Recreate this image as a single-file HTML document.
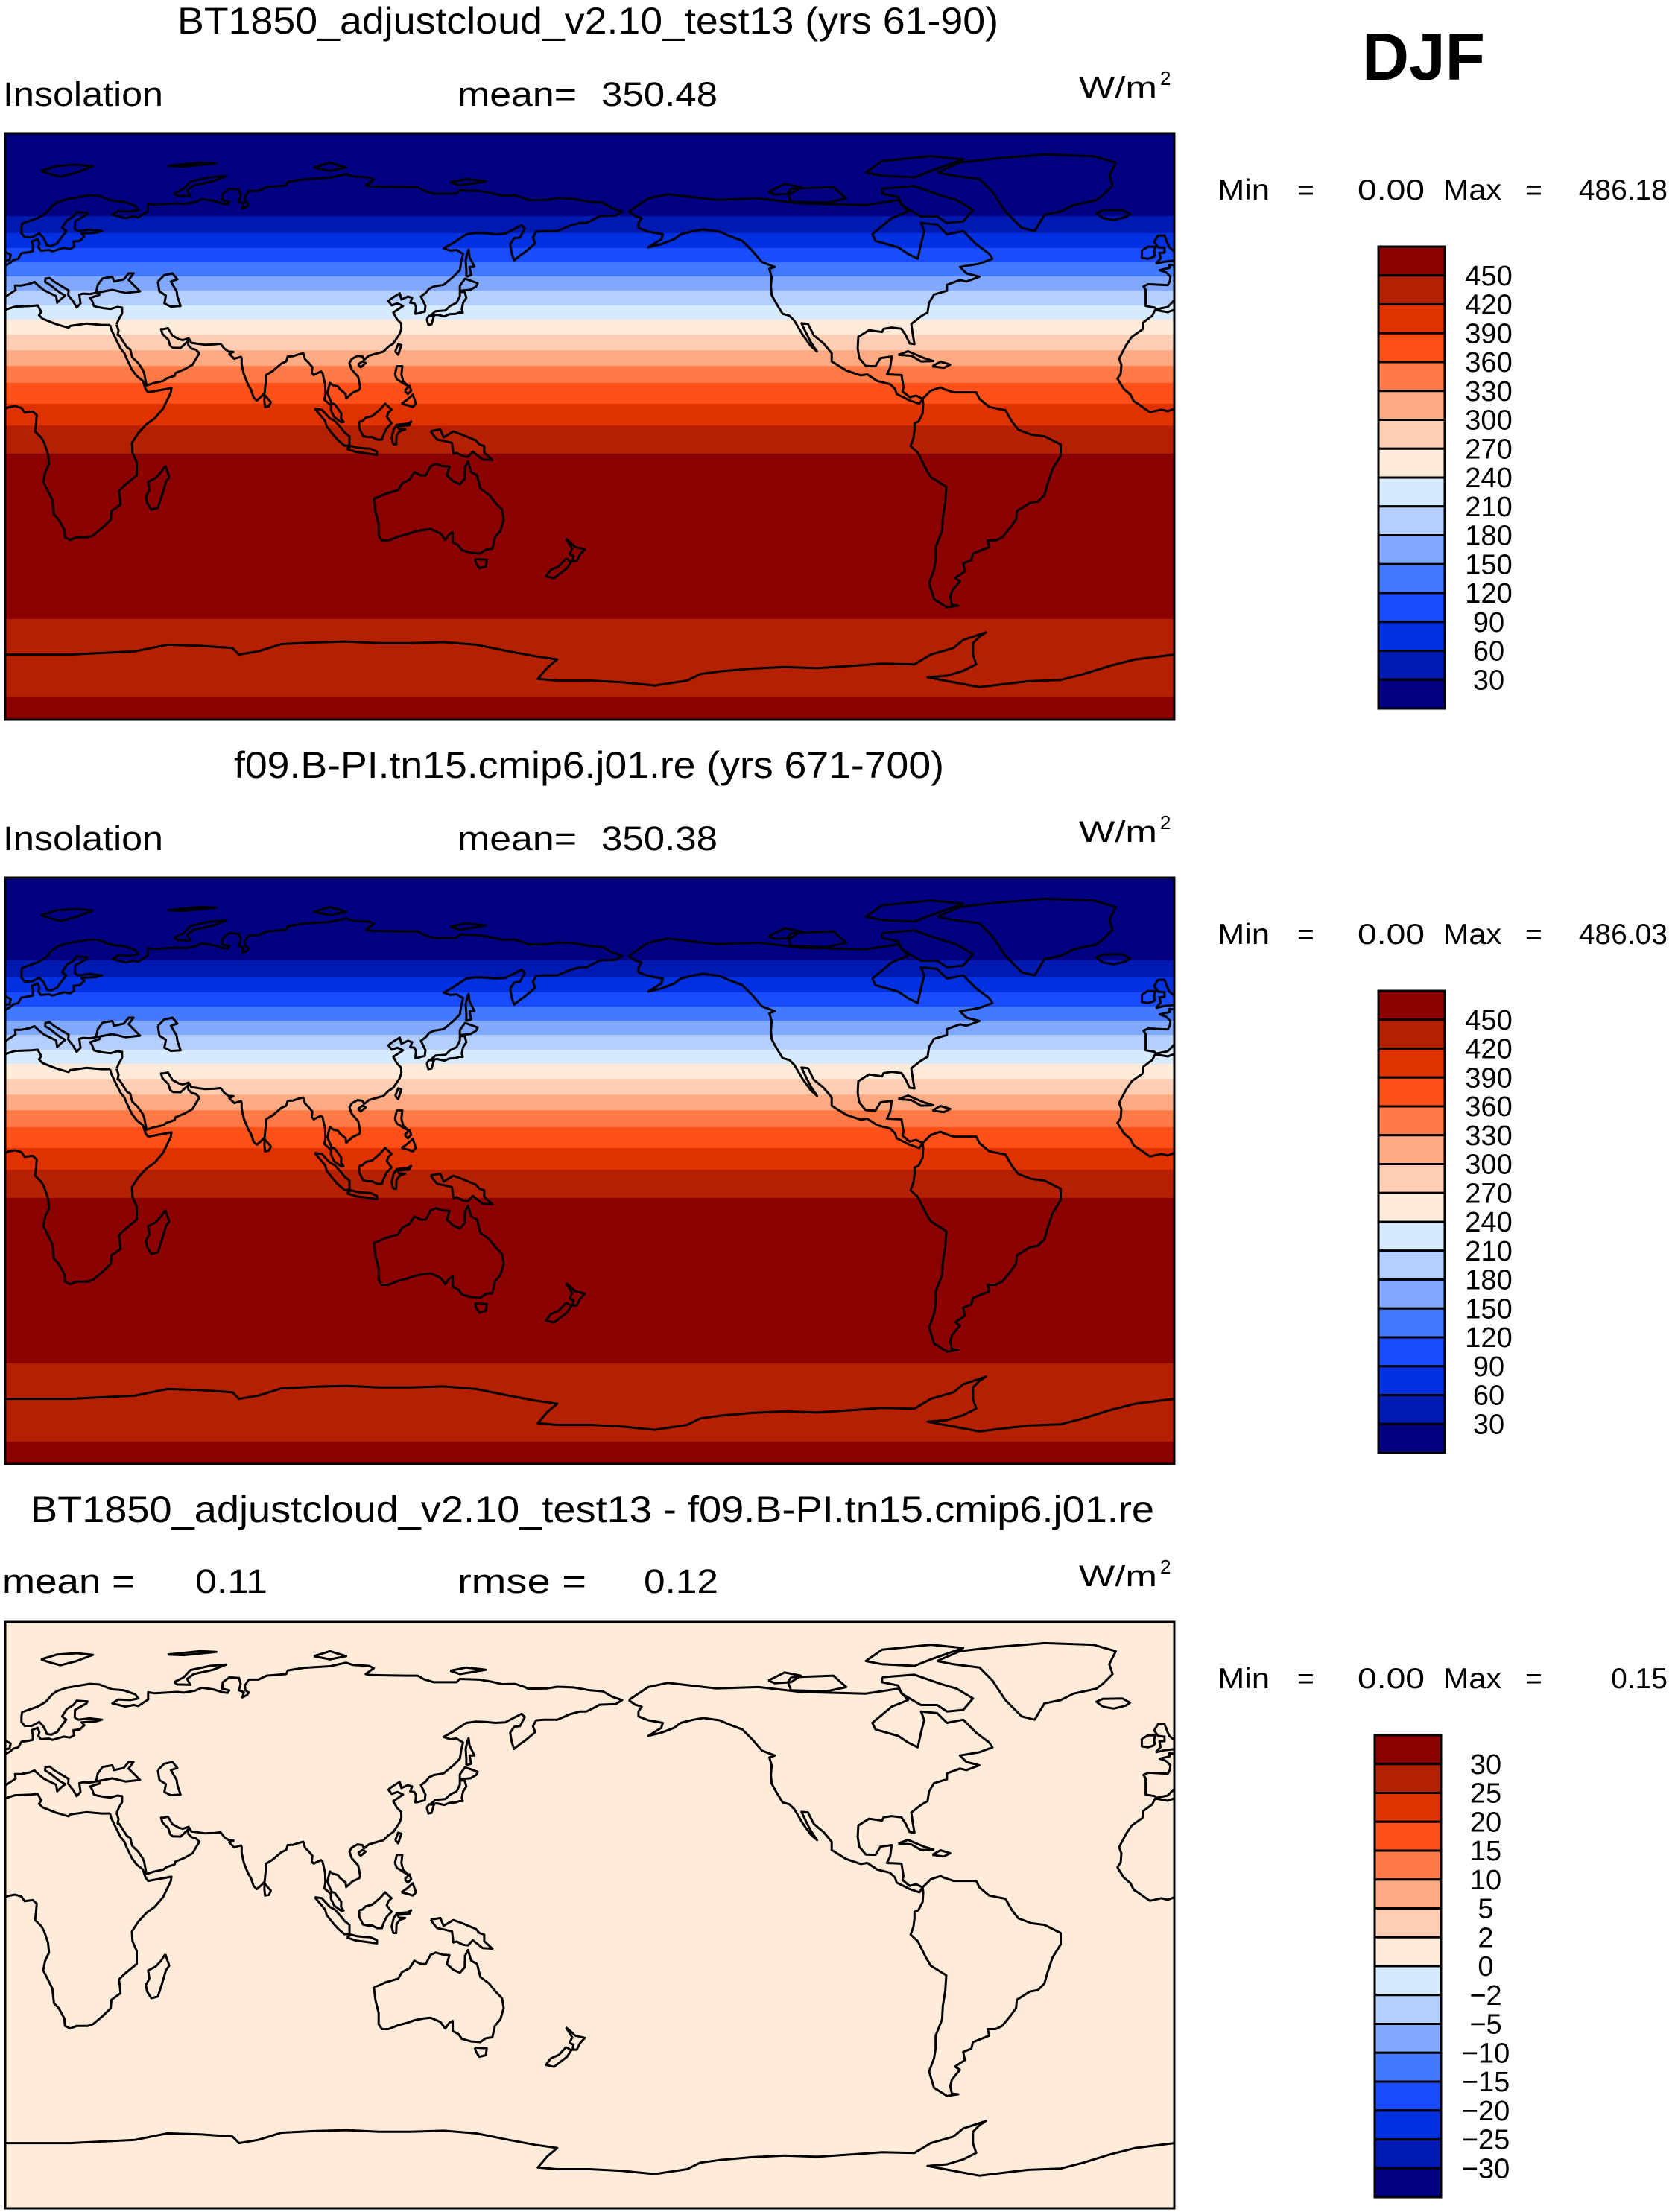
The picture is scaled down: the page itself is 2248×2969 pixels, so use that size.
<!DOCTYPE html>
<html><head><meta charset="utf-8"><style>
html,body{margin:0;padding:0;background:#fff;}
svg{display:block;font-family:"Liberation Sans",sans-serif;}
</style></head><body>
<svg id="fig" xmlns="http://www.w3.org/2000/svg" width="2248" height="2969" viewBox="0 0 2248 2969">
<rect width="2248" height="2969" fill="#fff"/>
<text x="1828" y="107" font-size="90" font-weight="bold" textLength="165" lengthAdjust="spacingAndGlyphs">DJF</text>
</svg>
<script>
// ---------- data ----------
const insolLevels = [30,60,90,120,150,180,210,240,270,300,330,360,390,420,450];
const insolTickLabels = ["450","420","390","360","330","300","270","240","210","180","150","120","90","60","30"];
const diffLevels = [-30,-25,-20,-15,-10,-5,-2,0,2,5,10,15,20,25,30];
const diffTickLabels = ["30","25","20","15","10","5","2","0","\u22122","\u22125","\u221210","\u221215","\u221220","\u221225","\u221230"];
// zonal bands: latitude edges (north->south) and insolation value in each band
const bandEdgesLat1 = [90,64.6,59.4,54.8,50.4,46.1,41.7,37.2,32.8,28.2,23.4,18.6,13.4,7.0,0.3,-8.3,-59.1,-83.1,-90];
const bandValues1 = [10,45,75,105,135,165,195,225,255,285,315,345,375,405,435,470,440,475];
const bandEdgesLat2 = [90,64.6,59.4,54.8,50.4,46.1,41.7,37.2,32.8,28.2,23.4,18.6,13.4,7.0,0.3,-8.3,-59.1,-83.1,-90];
const bandValues2 = [10,45,75,105,135,165,195,225,255,285,315,345,375,405,435,470,440,475];
const bandEdgesLat3 = [90,-90];
const bandValues3 = [0.11];
const panelStats = [
  {title:"BT1850_adjustcloud_v2.10_test13 (yrs 61-90)", tx:238, tw:1102, min:"0.00", max:"486.18"},
  {title:"f09.B-PI.tn15.cmip6.j01.re (yrs 671-700)", tx:314, tw:953, min:"0.00", max:"486.03"},
  {title:"BT1850_adjustcloud_v2.10_test13 - f09.B-PI.tn15.cmip6.j01.re", tx:41, tw:1508, min:"0.00", max:"0.15"}
];
const means = ["350.48","350.38"];
const diffMean = "0.11", diffRmse = "0.12";

const palette = ["#000080","#0019b0","#0030e0","#1a4cff","#4478ff","#80a8ff","#b4ceff","#d6eaff","#ffebda","#ffcdb4","#ffaa82","#ff7a46","#ff501a","#e03200","#b52000","#8b0000"];

const coasts = [
 [[-168,66],[-162,70],[-156,71.3],[-141,69.6],[-128,70],[-115,68.5],[-95,68],[-85,69.5],[-82,66],[-87,64],[-93,59],[-92,57],[-85,55],[-82,53],[-79,51.5],[-78,56],[-77,60],[-78,62.5],[-73,62],[-70,59],[-65,60],[-61,56],[-57,53],[-56,51.5],[-60,50],[-66,49],[-64,47],[-60,46],[-64,44.5],[-66,45],[-70,43.5],[-70,41.7],[-74,40.5],[-75.5,38],[-76,35],[-78,33.8],[-81,31.5],[-80.5,28],[-80,25.3],[-81.5,25.5],[-82.7,28],[-84,30],[-87,30.4],[-89.5,30],[-90,29],[-94,29.6],[-97.3,27.5],[-97.5,24],[-97,21],[-95,18.6],[-92,18.5],[-90.5,21],[-87,21.5],[-87.5,18],[-88.5,16],[-84,15.8],[-83.4,12],[-83.7,10.8],[-81.5,9],[-79.5,9.5],[-77.5,8.5],[-78.5,7],[-80,7.5],[-81.5,8],[-85.5,10],[-86,11.5],[-87.5,13],[-91.5,14],[-94.5,16],[-96.5,15.7],[-101,17.2],[-105.5,20],[-105.5,22.5],[-108,25.5],[-111,28],[-112.8,31.5],[-114.8,31.7],[-113.5,29],[-112,26],[-110,23],[-112,24.8],[-114.3,28],[-117,32.5],[-118.5,34],[-120.6,34.6],[-122.5,37.7],[-124,40.4],[-124.2,43],[-124,46],[-124.7,48.4],[-123,49],[-127,50.5],[-130,54],[-133,57],[-137,58.5],[-140,59.8],[-145,60.5],[-148,60],[-152,59],[-154,57.5],[-158,56],[-162,55],[-158,57.5],[-157.5,59],[-162,59.8],[-165,61],[-165,62.5],[-164,64],[-166,64.6],[-168,66]],
 [[-73,78],[-66,81],[-55,82.3],[-40,83.5],[-25,83],[-18,81],[-20,77],[-19,74],[-22,71],[-24,69.5],[-31,68],[-35,66],[-40,65],[-43,60],[-47,61],[-50,64],[-52,66],[-54,69],[-56,72],[-60,76],[-68,77],[-73,78]],
 [[-90,73],[-80,73.8],[-72,71],[-67,69.5],[-62,66.5],[-65,63],[-70,62.5],[-73,64.5],[-78,64.5],[-84,68],[-85,70.5],[-90,71.5],[-90,73]],
 [[-118,73],[-105,73.5],[-101,70],[-107,68.7],[-118,69],[-119,71.5],[-118,73]],
 [[-90,77],[-80,76.5],[-75,78.5],[-65,82],[-75,83],[-90,81.5],[-95,78],[-90,77]],
 [[-125,72],[-120,74.5],[-115,73.5],[-118,71.5],[-123,71.2],[-125,72]],
 [[-85,22],[-82,23.1],[-77,21],[-74.2,20.1],[-78,20],[-81,21.7],[-85,22]],
 [[-74.5,18.5],[-72,19.9],[-69,19],[-71,18],[-74.5,18.5]],
 [[-77.5,8.5],[-75,11],[-72,12],[-71,11.5],[-68,10.5],[-64,10.5],[-61,10.5],[-60,8.5],[-57,6],[-52,5],[-50,1.5],[-48,-1],[-44,-2.5],[-40,-3],[-35,-5.5],[-35,-9],[-37.5,-13],[-39,-17.5],[-40,-21],[-42,-23],[-44.5,-23.5],[-48.5,-26],[-48.7,-28.5],[-50.5,-31],[-53,-34],[-55,-35],[-57.5,-35],[-57,-37],[-62,-39],[-62.5,-41],[-65,-42],[-64.5,-44.5],[-67.5,-46.5],[-66,-47.5],[-68.5,-50.5],[-69,-52.5],[-68.5,-54.8],[-66.5,-55],[-70,-55.5],[-74,-53],[-75.5,-48],[-74,-44],[-73.5,-41],[-73.5,-37],[-71.5,-32],[-71.3,-28],[-70.5,-23],[-70.2,-18.5],[-75,-15.5],[-76.5,-13],[-79,-8],[-81.2,-6],[-80.3,-3.5],[-80,-1],[-80,1],[-78.8,1.5],[-77.5,4],[-77.3,7],[-77.5,8.5]],
 [[34.3,31.3],[35,33],[36,34.7],[36,36.5],[34.5,36.7],[32.5,36.1],[30.5,36.3],[28.3,36.7],[27.3,37],[26.8,38.5],[26.2,39.5],[29,40.4],[29,41.2],[28,41],[26,40.7],[24,40.8],[22.8,40.5],[23.2,37.8],[22,36.5],[21,38.3],[19.4,40.3],[19.5,41.8],[17.5,43],[15,44.5],[13.7,45.6],[12.4,45.4],[12.3,44.4],[13.8,43.5],[15.8,41.9],[17,41],[18.5,40.2],[17,39],[16,38],[15.7,40],[12,41.8],[10.5,43],[9,44.4],[7.5,43.8],[5,43.3],[3,43.3],[3.2,41.9],[0,39.8],[0,38.8],[-2,36.7],[-5.5,36],[-6,36.5],[-8.8,37],[-8.8,42],[-9.5,43],[-8,43.7],[-2,43.4],[-1.4,44.5],[-1.2,46],[-2.5,47.3],[-4.5,48],[-1.5,48.7],[-1.5,49.7],[0.2,49.5],[1.5,50.2],[2.5,51.1],[4,51.5],[5,53.2],[7,53.5],[8.5,53.8],[8.5,55.5],[8.2,56.8],[10,57.5],[10.5,56.2],[10.2,55],[11,54],[13.5,54.2],[14.5,53.8],[18,54.8],[19.9,54.5],[21.2,55.2],[21,56.8],[23,57],[24.4,58.3],[23.5,59.2],[28,59.5],[29.8,60],[26,60.4],[22.5,60],[21.4,60.7],[21.5,63],[25,65],[25.3,65.6],[22,65.8],[21,64.5],[19,63.3],[17.5,61],[18.8,60],[16.5,57],[16,56.2],[14.2,55.4],[12.8,55.6],[12.5,56.5],[11.7,58],[10.5,59.3],[8.2,58.1],[6,58.1],[5,59.3],[5,61],[5.2,62.3],[8,63.3],[10,64],[12.5,65.5],[14.5,67.8],[16,68.8],[19,69.8],[23,70.5],[26,71],[29,70.8],[31,70],[33,69.3],[36.5,69],[40,67.8],[41,66.5],[38.5,66],[34.8,66.2],[33,65],[37,64],[39.5,64.5],[41,64.2],[44,66.2],[44,68.4],[46,68.1],[53,68.5],[55,68.3],[58.5,68.9],[60.5,69.8],[64,69.3],[67,68.4],[68.5,68.2],[69,69],[66.8,69.5],[67,71.5],[69,73],[72,72.8],[72.5,71],[72,69],[73.5,68.4],[73,66.8],[74.5,67.6],[75,68.3],[74,69],[73.8,70.5],[75,72.3],[78,72.3],[80.5,73.5],[86.5,74],[87,75.1],[92,75.9],[100,76.4],[105,77.5],[107,76.8],[112,76.5],[113.5,75.8],[111,74],[112.5,73.7],[118,73.6],[124,73.5],[127,73.5],[129,72.4],[132,71.5],[139,71.5],[140,72.5],[146,72.3],[150,71.6],[153,70.9],[157,71],[160,70],[161,69.5],[167,69.6],[170,70.1],[175,69.9],[180,69],[184,68.7],[187,67],[190,66],[188,64.8],[183,64.6],[182,64],[179,62.5],[177,62.5],[174,61.7],[170,60],[166,60],[163.5,59.8],[162.5,58],[163.2,56.2],[161.8,55],[160,53.5],[158.5,52.5],[156.7,51],[156,53],[155.5,56],[156.7,57.8],[158.5,58],[160,60.8],[159,61.8],[154,59.2],[151,59],[148,59.3],[145,59.4],[142,59],[138,56.4],[135,54.7],[137,54],[139,54.2],[141,53],[140.5,51],[140,48],[138,46],[135,43.5],[132,43],[130.5,42.3],[129.5,41],[128,39.9],[129.4,37],[129.2,35.3],[127,34.7],[126.3,34.6],[126.5,36.8],[126,37.8],[124.7,38],[125.3,39.5],[124,39.9],[122,39],[121.5,40.9],[120,40],[118.5,39],[118,38.5],[119,37.2],[120.8,37.8],[122.5,37],[121,36],[119.5,35],[120.6,33],[121.9,31.7],[122,30],[121.5,28.5],[120.5,27],[119.5,25.5],[118,24.5],[116.5,23],[114,22.3],[112,21.7],[110.5,20.5],[110,21.5],[108.5,21.7],[106.7,20.7],[106,19.5],[106.7,17.5],[108.7,15.2],[109.3,12],[109,11.3],[107,10.4],[105,8.6],[104.8,10],[103,11.5],[102.5,12.3],[100.9,12.7],[100,13.4],[99.2,10.3],[100.5,7.2],[101.5,6.8],[103.5,4],[103.4,2.5],[104.2,1.4],[103.5,1.3],[101.3,2.9],[100.3,5],[100.3,6.5],[98.3,8.2],[98.6,10],[98.5,13],[97.7,16.5],[97.2,16.9],[95,15.8],[94.4,16.5],[94.6,18.2],[93.5,19.5],[92.3,20.7],[91.8,22.5],[90.5,22.2],[88.7,21.6],[87,21.5],[86.5,20],[85,19.3],[82.3,17],[80.3,15.8],[80.2,13.5],[79.9,10.3],[79,9.3],[77.5,8],[76.5,8.9],[75.7,11.3],[74.8,12.8],[73.5,16],[72.8,19.2],[72.8,21],[72.6,21.4],[70.5,20.8],[69,22.3],[70.3,22.9],[68.8,23],[67.5,23.9],[66.3,25.4],[64.5,25.2],[61.5,25.1],[57.3,25.7],[56.5,27.1],[54.7,26.5],[53.5,26.8],[51.5,27.9],[50.1,30.2],[48.6,29.9],[48,29.9],[48.4,28.5],[49.3,27.5],[50.2,26.7],[50.8,24.8],[51.6,24.2],[54,24.1],[55.4,25.4],[56.3,26.3],[56.4,24.9],[57.4,23.9],[58.7,23.6],[59.8,22.5],[58.5,20.4],[57.7,19],[55.3,17.6],[52.4,16.4],[52.2,15.6],[49.6,14.7],[48.7,14],[45.6,13.3],[43.5,12.6],[42.8,16.3],[42.3,17.5],[40.9,19.5],[39.1,21.3],[38.5,23.7],[37.5,24.3],[35.1,28],[34.6,28.1],[34.9,29.5],[34.3,31.3]],
 [[28,41.2],[28.5,43.5],[30,45.5],[33,46],[33.5,44.5],[36.5,45.2],[38,47],[39.5,47],[38,45],[41.5,41.5],[37,41],[33,42],[29,41.2]],
 [[47,44.5],[47.5,41.5],[49.5,40.2],[49,37.8],[51,36.8],[54,37],[53,40],[52.8,41.5],[51,44.5],[53,45.2],[51.5,47],[49,46.5],[47,44.5]],
 [[32.3,31.2],[29.8,31.2],[25,31.6],[20,30.9],[19.5,30.3],[15.5,31.5],[11.5,33.1],[10.4,34.2],[11.1,35.2],[10,37.2],[8,37],[3,36.8],[-1,35.5],[-2,35.1],[-5.9,35.8],[-6.8,34],[-9.5,32],[-9.8,29.8],[-13,27.6],[-14.8,25],[-16.4,22],[-17,20.8],[-16.3,19],[-16.5,16.2],[-17.5,14.7],[-16.8,13.5],[-15.5,11.5],[-13.5,9.8],[-12.5,7.8],[-11,6.8],[-7.5,4.4],[-4,5.2],[-2,4.7],[1,5.9],[3,6.3],[5,5.7],[6,4.3],[8.5,4.6],[9.7,3.5],[9.5,1],[9.2,-1.5],[11.2,-3.5],[12,-5],[13.2,-8.5],[13.5,-11.5],[12.3,-14],[11.7,-17],[12.5,-18.5],[14.5,-22.5],[15,-27],[16.5,-28.6],[18.2,-31.7],[18.4,-34],[20,-34.8],[22,-34],[25.5,-34],[27,-33.5],[30,-31],[32.5,-28.6],[32.7,-26],[35.5,-24],[35.3,-21.5],[35,-19.8],[36.8,-18],[40.5,-15],[40.5,-11],[39.2,-8],[39,-5],[41,-2],[43.5,0.7],[46,2.5],[48.6,5.5],[51,10.5],[51.2,11.8],[48,11.2],[44,10.5],[43.2,11.5],[42.4,14],[40.5,15.5],[39,17.5],[37.3,21],[36.7,22.5],[35.5,24],[34,27],[32.6,29.9],[32.3,31.2]],
 [[49.3,-12],[50.5,-15.5],[49.5,-17],[48,-22],[47,-25],[45,-25.5],[43.7,-23.5],[43.3,-21.5],[44.4,-19.5],[44,-17],[46.3,-15.8],[48,-14],[49.3,-12]],
 [[-5.7,50],[-3,50.6],[1.3,51.1],[1.7,52.7],[0.2,53.5],[-1.5,55],[-2,56],[-3,58.6],[-5,58.6],[-6.2,56.7],[-5,55],[-3,54.8],[-3,53.4],[-4.6,53.3],[-4.2,51.6],[-5.7,50]],
 [[-6,52.2],[-6.2,53.9],[-5.8,55.2],[-8.2,55.2],[-10,54],[-10,51.8],[-8,51.5],[-6,52.2]],
 [[-22,64],[-24,65.5],[-22,66.4],[-16,66.5],[-13.6,65.2],[-15,64.3],[-18.7,63.4],[-22,64]],
 [[11,78.5],[16,80],[22,80.4],[27,79.9],[22,78],[17,76.7],[14,77.5],[11,78.5]],
 [[52,71.5],[55,73],[57,75.2],[63,76.5],[68,76.9],[64,75.3],[58,74],[56,72.5],[57,70.7],[53,70.8],[52,71.5]],
 [[95,79.5],[100,81],[105,79.5],[100,78.5],[95,79.5]],
 [[137,75],[142,76],[148,75.3],[140,74],[137,75]],
 [[50,80],[60,81],[65,80.8],[55,79.8],[50,80]],
 [[79.9,9.7],[81.8,7.5],[81.2,6.2],[80,6],[79.8,8],[79.9,9.7]],
 [[130.9,34],[132.5,35.4],[135.5,35.6],[137,37],[139,38],[140,40],[140,41.3],[141.5,41.3],[142,39.5],[141,38],[140.6,36],[140.9,35],[139.8,35],[138.8,34.6],[136.8,34.5],[135.2,33.8],[133,34.3],[130.9,34]],
 [[140,41.5],[140,43.2],[141.6,45.4],[145.5,44],[145,43],[143.3,42],[141,41.8],[140,41.5]],
 [[129.8,33],[130.3,31.2],[131.3,31.4],[132,33.8],[130.5,34],[129.8,33]],
 [[142,46],[143.5,46.5],[143,49],[144.5,49],[143,52],[142.7,54.3],[142.3,53.3],[141.8,51],[142,48],[142,46]],
 [[120.1,23],[121,25.3],[122,25],[121,22],[120.1,23]],
 [[108.6,19],[110,20],[111,19.5],[109.5,18.2],[108.6,19]],
 [[120,16],[120.6,18.5],[122.3,18.5],[122,16],[122.5,14],[124,12.5],[123,13],[121.6,13.9],[120.6,14.5],[120,16]],
 [[122,7],[123.5,8],[125.5,9.8],[126.5,7],[125.5,6],[124,6.5],[122,7]],
 [[123,11],[124,10],[125,11],[124.5,12.5],[123,11]],
 [[109,1.5],[110,1.7],[111,2.7],[113,3.2],[115.5,5.3],[117,7],[119,5.2],[118,4.3],[117.5,3],[119,1],[117.5,-0.5],[116.5,-2.5],[116,-4],[114.5,-4],[113,-3.2],[111.5,-3.2],[110.2,-2.9],[109,-0.5],[109,1.5]],
 [[95.3,5.5],[97.5,5.2],[100,2.5],[101.5,1.7],[103.5,-0.5],[104.5,-1.8],[106,-3],[106,-5.8],[104.5,-5.9],[102.3,-4],[101,-2.5],[99,0],[98.5,1.7],[97,3.5],[95.3,5.5]],
 [[105.2,-6.8],[106.5,-6],[108.5,-6.5],[110.5,-6.7],[112.5,-6.8],[114.5,-7.7],[114.5,-8.7],[111,-8.2],[108,-7.8],[105.5,-7],[105.2,-6.8]],
 [[119.5,-5.5],[120.4,-5.5],[120.5,-2.8],[121.5,-1.5],[123.2,-0.9],[121.3,-0.8],[120.5,0.5],[124,0.9],[125,1.5],[124.5,0.4],[120.2,0],[119.6,-1],[119,-3.5],[119.5,-5.5]],
 [[131,-1.4],[134,-0.9],[135,-3.3],[138,-1.5],[141,-2.6],[145,-4.3],[146,-5.5],[147.5,-6],[147.5,-8],[150,-10.3],[147,-10.1],[144,-7.7],[142.5,-9.3],[141,-9.1],[139,-8.1],[138,-8.4],[137.6,-5],[135,-4.4],[133,-4],[132,-2.8],[131,-1.4]],
 [[113.5,-22],[114,-26],[115,-30],[115,-33.5],[116,-35],[118,-35],[121,-33.8],[124,-33],[126,-32.3],[129,-31.7],[131,-31.5],[134,-32.8],[135.5,-34.8],[136.8,-33],[137.8,-32.5],[137.8,-35.6],[139.6,-36.5],[140.6,-38],[143.5,-38.8],[146.3,-39],[148,-37.8],[150,-37.5],[150.8,-34],[152.5,-32],[153.5,-28.5],[153,-25.5],[151,-23.5],[149,-21],[146.3,-19],[145.3,-15],[143.5,-14],[142.5,-10.7],[141.6,-12.5],[141.5,-16],[140,-17.7],[138,-16.8],[136,-15],[136.8,-12.3],[135,-12.2],[132.6,-11.5],[131,-12.2],[129.5,-15],[128,-15],[126,-14],[124.5,-16.3],[122.2,-17.5],[121,-19.5],[117,-20.7],[114.6,-21.8],[113.5,-22]],
 [[144.6,-40.7],[148.3,-40.9],[148,-43],[146,-43.5],[145,-42],[144.6,-40.7]],
 [[172.7,-34.5],[174.5,-36],[175.5,-37],[178.5,-37.7],[177,-39.3],[176,-41.3],[174.7,-41.3],[175,-39.8],[173.8,-39.2],[174.6,-37.5],[172.7,-34.5]],
 [[172.7,-40.5],[174.3,-41.5],[173,-43.5],[171,-45],[169,-46.6],[166.5,-46],[168,-44],[170.5,-42.9],[172.7,-40.5]],
 [[-180,-78],[-170,-78.5],[-160,-79.5],[-150,-78],[-146,-76],[-140,-75.2],[-130,-74.3],[-120,-73.8],[-110,-74.2],[-100,-73.5],[-90,-72.8],[-80,-73],[-75,-70],[-68,-68],[-65,-65.5],[-58,-63.2],[-60,-64.5],[-62,-66.5],[-62,-70],[-61,-73],[-65,-75],[-70,-76.5],[-76,-77],[-60,-80],[-45,-78.2],[-35,-77.8],[-28,-76],[-20,-73.5],[-12,-71.5],[0,-70],[10,-70],[20,-70],[30,-69.5],[40,-69],[50,-67],[60,-67.3],[70,-68],[72,-70],[78,-69],[85,-66.8],[95,-66.3],[105,-66],[115,-66.5],[125,-66.5],[135,-66.2],[145,-67],[155,-69],[163,-70.5],[170,-71.5],[167,-74],[164,-77.5],[170,-78],[180,-78]]
];

// ---------- drawing ----------
const NS = "http://www.w3.org/2000/svg";
const svg = document.getElementById("fig");
const MX = 7, MW = 1569, MH = 787;
const panelTops = [179, 1178, 2177];
function el(tag, attrs, parent){ const e=document.createElementNS(NS,tag); for(const k in attrs) e.setAttribute(k,attrs[k]); (parent||svg).appendChild(e); return e; }
function xOf(lon){ return MX + lon/360*MW; }
function yOf(lat, top){ return top + (90-lat)/180*MH; }
function colorFor(v, levels){ let i=0; while(i<levels.length && v>=levels[i]) i++; return palette[i]; }
function txt(s, x, y, size, name, extra){
  const t = el("text", Object.assign({x:x, y:y, "font-size":size}, extra||{}));
  
  
  t.textContent = s; return t;
}

const edgesList = [bandEdgesLat1, bandEdgesLat2, bandEdgesLat3];
const valuesList = [bandValues1, bandValues2, bandValues3];

panelTops.forEach((top, p) => {
  const g = el("g", {});
  
  
  const cp = el("clipPath", {id:"clip"+p}, g);
  el("rect", {x:MX, y:top, width:MW, height:MH}, cp);
  const field = el("g", {"clip-path":"url(#clip"+p+")"}, g);
  
  
  const edges = edgesList[p], vals = valuesList[p];
  const lev = p < 2 ? insolLevels : diffLevels;
  for (let i=0;i<vals.length;i++){
    const y1 = yOf(edges[i], top), y2 = yOf(edges[i+1], top);
    const r = el("rect", {x:MX, y:y1, width:MW, height:(y2-y1)+0.6, fill:colorFor(vals[i], lev)}, field);
    
    
  }
  const cg = el("g", {fill:"none", stroke:"#000", "stroke-width":3, "stroke-linejoin":"round"}, field);
  
  
  [-360,0,360].forEach(off => {
    coasts.forEach(poly => {
      const d = poly.map((pt,j)=>(j?"L":"M")+xOf(pt[0]+off).toFixed(1)+","+yOf(pt[1],top).toFixed(1)).join("");
      const pa = el("path", {d:d}, cg);
      
      
    });
  });
  const fr = el("rect", {x:MX, y:top, width:MW, height:MH, fill:"none", stroke:"#000", "stroke-width":3}, g);
  
  

  const off = top - 179;
  const st = panelStats[p];
  txt(st.title, st.tx, 45+off, 50, 'panel-title', {textLength:st.tw, lengthAdjust:"spacingAndGlyphs"});
  if (p < 2){
    txt("Insolation", 4, 142+off, 45, 'variable-label', {textLength:215, lengthAdjust:"spacingAndGlyphs"});
    txt("mean=", 614, 142+off, 45, 'mean-label', {textLength:160, lengthAdjust:"spacingAndGlyphs"});
    txt(means[p], 807, 142+off, 45, 'mean-value', {textLength:156, lengthAdjust:"spacingAndGlyphs"});
  } else {
    txt("mean  =", 3, 140+off, 45, 'mean-label', {textLength:178, lengthAdjust:"spacingAndGlyphs"});
    txt(diffMean, 262, 140+off, 45, 'mean-value', {textLength:97, lengthAdjust:"spacingAndGlyphs"});
    txt("rmse  =", 614, 140+off, 45, 'rmse-label', {textLength:173, lengthAdjust:"spacingAndGlyphs"});
    txt(diffRmse, 864, 140+off, 45, 'rmse-value', {textLength:100, lengthAdjust:"spacingAndGlyphs"});
  }
  txt("W/m", 1448, 131+off, 40, 'units-label', {textLength:105, lengthAdjust:"spacingAndGlyphs"});
  txt("2", 1557, 114+off, 26, 'units-exponent');
  txt("Min", 1634, 268+off, 39, 'min-label', {textLength:70, lengthAdjust:"spacingAndGlyphs"});
  txt("=", 1741, 268+off, 39, 'min-equals');
  txt(st.min, 1822, 268+off, 39, 'min-value', {textLength:90, lengthAdjust:"spacingAndGlyphs"});
  txt("Max", 1937, 268+off, 39, 'max-label', {textLength:78, lengthAdjust:"spacingAndGlyphs"});
  txt("=", 2047, 268+off, 39, 'max-equals');
  txt(st.max, 2238, 268+off, 39, 'max-value', {"text-anchor":"end"});

  const cb = el("g", {}, svg);
  
  
  const cbx = p<2 ? 1850 : 1845, cbw = 89, cby = 331+off, cbh = 620;
  const labels = p<2 ? insolTickLabels : diffTickLabels;
  const n = palette.length, bh = cbh/n;
  for (let i=0;i<n;i++){
    const r = el("rect", {x:cbx, y:cby+i*bh, width:cbw, height:bh, fill:palette[n-1-i], stroke:"#000", "stroke-width":3}, cb);
    
    
  }
  labels.forEach((s,i)=>{
    const t = el("text", {x:(p<2?1998:1994), y:cby+(i+1)*bh+13, "font-size":38, "text-anchor":"middle"}, cb);
    
    
    t.textContent = s;
  });
});
</script>
</body></html>
